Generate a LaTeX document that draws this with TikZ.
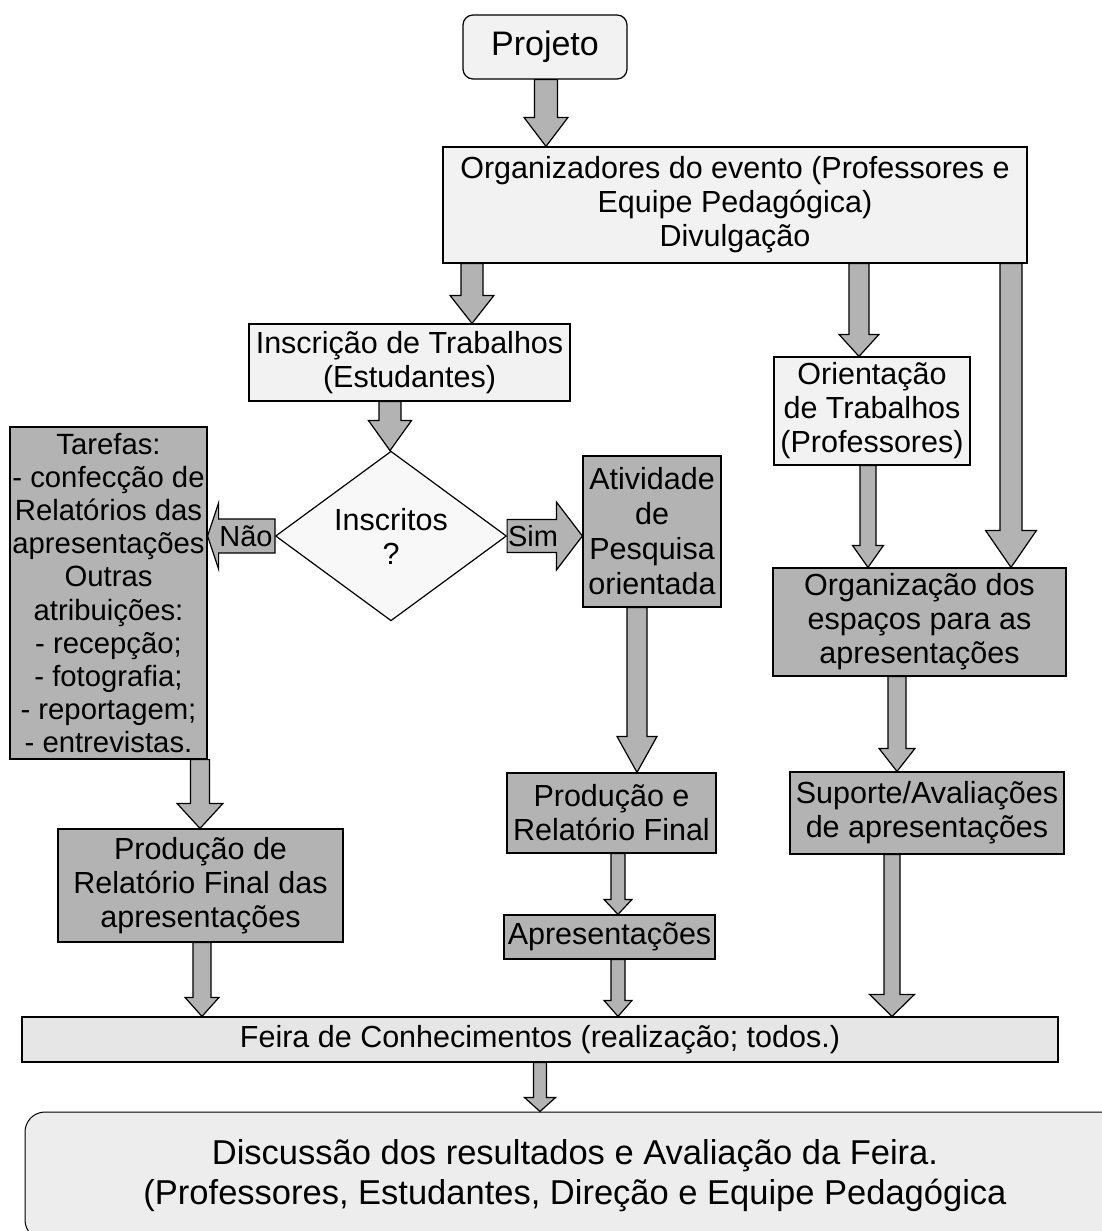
\documentclass[tikz,border=0pt]{standalone}
\usepackage{fontspec}
\setmainfont{Liberation Sans}
\usetikzlibrary{shapes.geometric, calc}

\definecolor{boxlight}{HTML}{F2F2F2}
\definecolor{boxdark}{HTML}{B3B3B3}
\definecolor{feiragray}{HTML}{E6E6E6}
\definecolor{discgray}{HTML}{EDEDED}
\definecolor{diamondfill}{HTML}{F8F8F8}

% x, from, to, half shaft, half head, head length
\newcommand{\downblock}[6]{%
  \draw[blockarrow] let \p1=(#2.south), \p2=(#3.north) in
    (#1pt-#4pt,\y1) -- (#1pt+#4pt,\y1) -- (#1pt+#4pt,\y2+#6pt)
    -- (#1pt+#5pt,\y2+#6pt) -- (#1pt,\y2) -- (#1pt-#5pt,\y2+#6pt)
    -- (#1pt-#4pt,\y2+#6pt) -- cycle;}

\begin{document}
\begin{tikzpicture}[x=1pt, y=-1pt,
  every node/.style={align=center, inner sep=0pt, font=\fontsize{30.5}{34}\selectfont},
  box/.style={draw, rectangle, line width=1.2pt},
  lightbox/.style={box, fill=boxlight},
  darkbox/.style={box, fill=boxdark},
  blockarrow/.style={draw, fill=boxdark, line width=1.2pt, line join=miter}]
\useasboundingbox (0,0) rectangle (1102,1231);
\node (proj) [lightbox, rounded corners=10pt, minimum width=164pt, minimum height=64pt, font=\fontsize{34}{40}\selectfont] at (545,47) {Projeto};
\node (org) [lightbox, minimum width=584pt, minimum height=116pt] at (735,205) {Organizadores do evento (Professores e\\Equipe Pedagógica)\\Divulgação};
\node (inscr) [lightbox, minimum width=321pt, minimum height=77pt] at (409.5,362.5) {Inscrição de Trabalhos\\(Estudantes)};
\node (orient) [lightbox, minimum width=196pt, minimum height=108pt] at (872,411) {Orientação\\de Trabalhos\\(Professores)};
\node (diam) [draw, diamond, fill=diamondfill, line width=1.2pt, minimum width=231pt, minimum height=142pt] at (391,536) {Inscritos\\?};
\node (tarefas) [darkbox, minimum width=197pt, minimum height=332pt, font=\fontsize{29.3}{33.2}\selectfont] at (108.5,593) {Tarefas:\\- confecção de\\Relatórios das\\apresentações\\Outras\\atribuições:\\- recepção;\\- fotografia;\\- reportagem;\\- entrevistas.};
\node (ativ) [darkbox, minimum width=138pt, minimum height=151pt, font=\fontsize{30.5}{35}\selectfont] at (652,531.5) {Atividade\\de\\Pesquisa\\orientada};
\node (organiz) [darkbox, minimum width=293pt, minimum height=108pt] at (919.5,622) {Organização dos\\espaços para as\\apresentações};
\node (suporte) [darkbox, minimum width=274pt, minimum height=82pt] at (927,813) {Suporte/Avaliações\\de apresentações};
\node (prode) [darkbox, minimum width=209pt, minimum height=80pt] at (611.5,813) {Produção e\\Relatório Final};
\node (apres) [darkbox, minimum width=211pt, minimum height=44pt] at (609.5,937) {Apresentações};
\node (prodrel) [darkbox, minimum width=285pt, minimum height=113pt] at (200.5,885.5) {Produção de\\Relatório Final das\\apresentações};
\node (feira) [box, fill=feiragray, minimum width=1036pt, minimum height=45pt] at (540,1039.5) {Feira de Conhecimentos (realização; todos.)};
\node (disc) [draw, line width=1pt, fill=discgray, rounded corners=20pt, minimum width=1100pt, minimum height=128pt, font=\fontsize{34.5}{40}\selectfont] at (575,1176) {Discussão dos resultados e Avaliação da Feira.\\(Professores, Estudantes, Direção e Equipe Pedagógica};
\downblock{546}{proj}{org}{11.5}{22}{29}
\downblock{472}{org}{inscr}{11}{22}{28}
\downblock{859}{org}{orient}{10}{20}{22}
\downblock{1011}{org}{organiz}{11}{25.5}{37}
\downblock{390}{inscr}{diam}{11}{21.5}{30}
\downblock{868}{orient}{organiz}{8}{15.5}{22}
\downblock{637}{ativ}{prode}{10}{20}{36}
\downblock{618}{prode}{apres}{7}{14}{15}
\downblock{618}{apres}{feira}{7}{14}{16}
\downblock{897}{organiz}{suporte}{9}{18}{23}
\downblock{892}{suporte}{feira}{8}{22.5}{22}
\downblock{200}{tarefas}{prodrel}{9.5}{23}{25}
\downblock{202}{prodrel}{feira}{9}{17}{19}
\downblock{540}{feira}{disc}{6.5}{15.5}{14}
\draw[blockarrow] let \p1=(diam.west), \p2=(tarefas.east) in
  (\x1,\y1+17pt) -- (\x2+11pt,\y1+17pt) -- (\x2+11pt,\y1+33pt) -- (\x2,\y1)
  -- (\x2+11pt,\y1-33pt) -- (\x2+11pt,\y1-17pt) -- (\x1,\y1-17pt) -- cycle;
\draw[blockarrow] let \p1=(diam.east), \p2=(ativ.west) in
  (\x1,\y1+16.5pt) -- (\x2-26pt,\y1+16.5pt) -- (\x2-26pt,\y1+34pt) -- (\x2,\y1)
  -- (\x2-26pt,\y1-34pt) -- (\x2-26pt,\y1-16.5pt) -- (\x1,\y1-16.5pt) -- cycle;
\node (nao) [font=\fontsize{29}{34}\selectfont] at (246,536) {Não};
\node (sim) [font=\fontsize{29}{34}\selectfont] at (533,536) {Sim};
\end{tikzpicture}
\end{document}
